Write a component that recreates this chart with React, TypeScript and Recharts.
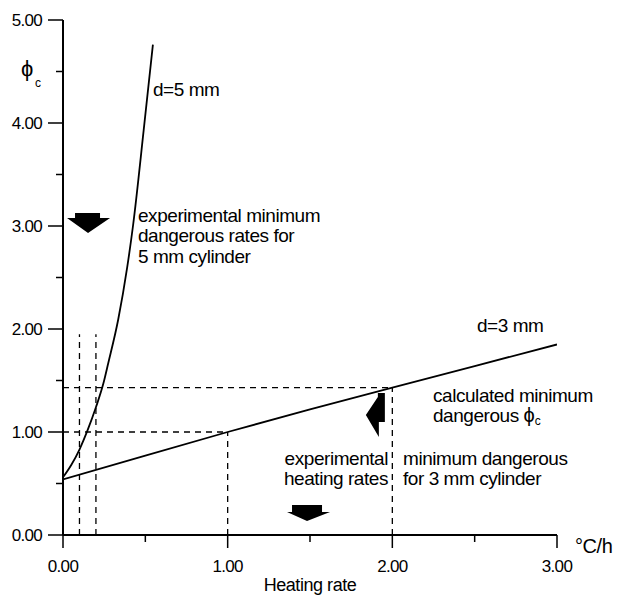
import React from 'react';
import {
  LineChart,
  Line,
  XAxis,
  YAxis,
  ReferenceLine,
  ReferenceDot,
} from 'recharts';

const xTicks = [0, 0.5, 1, 1.5, 2, 2.5, 3];
const yTicks = [0, 0.5, 1, 1.5, 2, 2.5, 3, 3.5, 4, 4.5, 5];

// d=3 mm curve (phi_c vs heating rate)
const d3X = [0, 0.5, 1, 1.5, 2, 2.5, 3];
const d3Y = [0.54, 0.77, 1.0, 1.22, 1.43, 1.64, 1.85];

// d=5 mm curve
const d5X = [0, 0.05, 0.1, 0.15, 0.2, 0.245, 0.275, 0.335, 0.39, 0.425, 0.49, 0.546];
const d5Y = [0.56, 0.68, 0.83, 1.02, 1.24, 1.47, 1.67, 2.09, 2.6, 3.0, 3.93, 4.76];

// dashed guide segments [x1, y1, x2, y2]
const guides = [
  [0, 1.43, 2, 1.43],
  [0, 1.0, 1, 1.0],
  [1, 0, 1, 1.0],
  [2, 0, 2, 1.43],
  [0.1, 0, 0.1, 1.95],
  [0.2, 0, 0.2, 1.95],
];

// arrow anchors: x, y, shape
const arrowX = [0.152, 1.488, 1.9];
const arrowY = [3.03, 0.214, 1.165];
const arrowKind = ['down', 'downSmall', 'left'];

const d3Data = d3X.map((x, i) => ({ x, y: d3Y[i] }));
const d5Data = d5X.map((x, i) => ({ x, y: d5Y[i] }));

const FONT = '"Liberation Sans", Arial, sans-serif';
const PHI = '\u03D5';

const arrowShapes: Record<string, number[][]> = {
  down: [[-13, -10], [12, -10], [12, -5], [22, -5], [0, 10], [-21, -5], [-13, -5]],
  downSmall: [[-16, -8], [14, -8], [14, -1], [22, -1], [-1, 8], [-21, -1], [-16, -1]],
  left: [[-10, 0], [2, -18], [2, -22], [9, -22], [9, 7], [3, 7], [3, 22]],
};

function Arrow(props: any) {
  const { cx, cy, kind } = props;
  const pts = arrowShapes[kind].map(([dx, dy]) => `${cx + dx},${cy + dy}`).join(' ');
  return <polygon points={pts} fill="#000" />;
}

function XTick(props: any) {
  const { x, y, payload } = props;
  const v = payload.value as number;
  const major = Number.isInteger(v);
  return (
    <g>
      <line x1={x} x2={x} y1={y} y2={y + (major ? 13 : 7)} stroke="#000" strokeWidth={1.5} />
      {major && (
        <text x={x} y={y + 37} textAnchor="middle" fontSize={17} letterSpacing={-0.7} fontFamily={FONT} fill="#000">
          {v.toFixed(2)}
        </text>
      )}
    </g>
  );
}

function YTick(props: any) {
  const { x, y, payload } = props;
  const v = payload.value as number;
  const major = Number.isInteger(v);
  return (
    <g>
      <line x1={x} x2={x - (major ? 15 : 7)} y1={y} y2={y} stroke="#000" strokeWidth={1.5} />
      {major && (
        <text x={x - 21} y={y + 6} textAnchor="end" fontSize={17} letterSpacing={-0.7} fontFamily={FONT} fill="#000">
          {v.toFixed(2)}
        </text>
      )}
    </g>
  );
}

function Annotations() {
  const t = { fontFamily: FONT, fill: '#000', fontSize: 19, letterSpacing: -0.45 };
  return (
    <svg width={617} height={598} style={{ position: 'absolute', left: 0, top: 0, pointerEvents: 'none' }}>
      <text x={21} y={76} {...t} fontSize={22}>{PHI}</text>
      <text x={35} y={87} {...t} fontSize={12}>c</text>
      <text x={153} y={96} {...t}>d=5 mm</text>
      <text x={138} y={222} {...t}>experimental minimum</text>
      <text x={138} y={242} {...t}>dangerous rates for</text>
      <text x={138} y={263} {...t}>5 mm cylinder</text>
      <text x={477} y={332} {...t}>d=3 mm</text>
      <text x={433} y={402} {...t}>calculated minimum</text>
      <text x={433} y={422} {...t}>
        dangerous{'  '}
        <tspan fontSize={20} letterSpacing={0}>{PHI}</tspan>
        <tspan fontSize={12} dy={3} letterSpacing={0}>c</tspan>
      </text>
      <text x={388} y={465} {...t} textAnchor="end">experimental</text>
      <text x={388} y={485} {...t} textAnchor="end">heating rates</text>
      <text x={403} y={465} {...t}>minimum dangerous</text>
      <text x={403} y={485} {...t}>for 3 mm cylinder</text>
      <text x={310} y={591} {...t} fontSize={18} textAnchor="middle">Heating rate</text>
      <text x={575} y={553} {...t} fontSize={20}>°C/h</text>
    </svg>
  );
}

export default function App() {
  return (
    <div style={{ position: 'fixed', left: 0, top: 0, width: 617, height: 598, background: '#fff' }}>
      <LineChart
        width={617}
        height={598}
        margin={{ top: 20, right: 60, left: 13, bottom: 13 }}
      >
        <XAxis
          type="number"
          dataKey="x"
          domain={[0, 3]}
          ticks={xTicks}
          interval={0}
          height={50}
          tickSize={0}
          tickMargin={0}
          tickLine={false}
          axisLine={{ stroke: '#000', strokeWidth: 2 }}
          tick={<XTick />}
          allowDataOverflow
        />
        <YAxis
          type="number"
          dataKey="y"
          domain={[0, 5]}
          ticks={yTicks}
          interval={0}
          width={50}
          tickSize={0}
          tickMargin={0}
          tickLine={false}
          axisLine={{ stroke: '#000', strokeWidth: 2 }}
          tick={<YTick />}
          allowDataOverflow
        />
        {guides.map((g, i) => (
          <ReferenceLine
            key={i}
            segment={[{ x: g[0], y: g[1] }, { x: g[2], y: g[3] }]}
            stroke="#000"
            strokeWidth={1.3}
            strokeDasharray="6 5"
            ifOverflow="visible"
          />
        ))}
        <Line
          data={d3Data}
          dataKey="y"
          type="linear"
          stroke="#000"
          strokeWidth={1.8}
          dot={false}
          isAnimationActive={false}
        />
        <Line
          data={d5Data}
          dataKey="y"
          type="monotone"
          stroke="#000"
          strokeWidth={1.8}
          dot={false}
          isAnimationActive={false}
        />
        {arrowX.map((ax, i) => (
          <ReferenceDot
            key={i}
            x={ax}
            y={arrowY[i]}
            ifOverflow="visible"
            shape={(p: any) => <Arrow cx={p.cx} cy={p.cy} kind={arrowKind[i]} />}
          />
        ))}
      </LineChart>
      <Annotations />
    </div>
  );
}
